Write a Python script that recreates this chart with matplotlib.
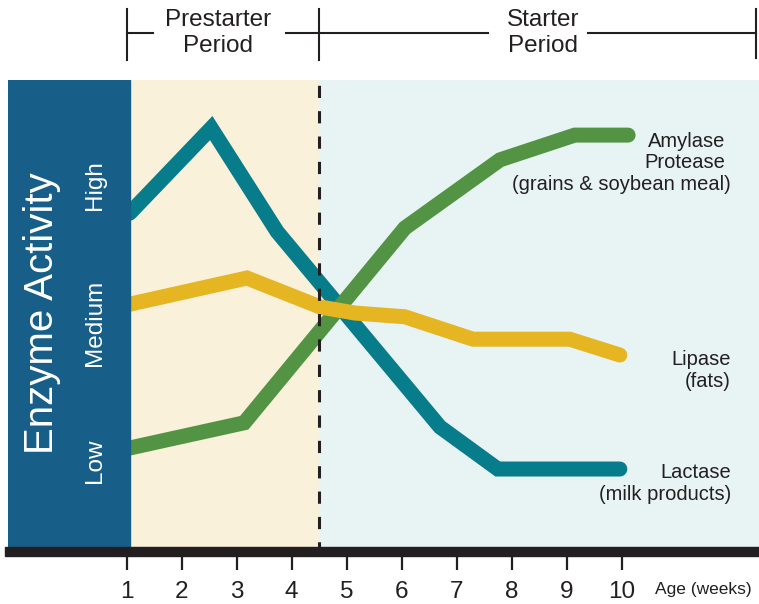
import matplotlib.pyplot as plt
from matplotlib.patches import Rectangle

plt.rcParams['font.family'] = ['Liberation Sans', 'DejaVu Sans']

# ── Data (age in weeks, relative enzyme activity 0-100) ──────────────────────
lactase_weeks = [1.06, 2.54, 3.74, 6.70, 7.75, 9.97]
lactase_level = [71.5, 89.7, 67.5, 25.7, 16.7, 16.7]

lipase_weeks = [1.06, 3.19, 4.52, 5.15, 6.06, 7.30, 9.06, 9.97]
lipase_level = [52.0, 57.6, 51.4, 50.1, 49.3, 44.5, 44.5, 41.1]

amylase_weeks = [1.06, 3.14, 6.06, 7.79, 9.15, 10.12]
amylase_level = [21.2, 26.6, 68.3, 82.9, 88.2, 88.2]

week_ticks = [1, 2, 3, 4, 5, 6, 7, 8, 9, 10]
activity_labels = ['Low', 'Medium', 'High']
activity_pos = [18.5, 48.0, 77.5]

# ── Colours ──────────────────────────────────────────────────────────────────
PANEL = '#175E88'
TEAL = '#077C8A'
YELLOW = '#E5B522'
GREEN = '#529443'
CREAM = '#FAF1DB'
ICE = '#E8F4F4'
INK = '#231F20'

XMIN, XMAX = -1.155, 12.5
PANEL_EDGE = 1.064
SPLIT = 4.5

fig = plt.figure(figsize=(7.59, 6.04), dpi=100)
ax = fig.add_axes([8 / 759, 57 / 604, 751 / 759, 467 / 604])
ax.set_xlim(XMIN, XMAX)
ax.set_ylim(0, 100)
for s in ax.spines.values():
    s.set_visible(False)
ax.set_yticks([])

# backgrounds
ax.add_patch(Rectangle((PANEL_EDGE, 0), SPLIT - PANEL_EDGE, 100, color=CREAM, zorder=0))
ax.add_patch(Rectangle((SPLIT, 0), XMAX - SPLIT, 100, color=ICE, zorder=0))

# enzyme curves
lw = 10.8
kw = dict(linewidth=lw, solid_capstyle='round', solid_joinstyle='miter')
ax.plot(lactase_weeks, lactase_level, color=TEAL, zorder=3, **kw)
ax.plot(amylase_weeks, amylase_level, color=GREEN, zorder=3.1, **kw)
ax.plot(lipase_weeks, lipase_level, color=YELLOW, zorder=3.2, **kw)

# left panel with activity scale
ax.add_patch(Rectangle((XMIN, 0), PANEL_EDGE - XMIN, 100, color=PANEL, zorder=4))
ax.text(-0.54, 50, 'Enzyme Activity', rotation=90, color='white', fontsize=29,
        ha='center', va='center', zorder=5)
for lab, pos in zip(activity_labels, activity_pos):
    ax.text(0.43, pos, lab, rotation=90, color='white', fontsize=17.5,
            ha='center', va='center', zorder=5)

# period divider
ax.plot([SPLIT, SPLIT], [-1.5, 100], color=INK, linewidth=2.2,
        linestyle=(0, (4, 4.3)), zorder=6, clip_on=False)

# bottom bar
ax.add_patch(Rectangle((XMIN - 0.06, -1.9), XMAX - XMIN + 0.06, 1.9, color=INK,
                       zorder=7, clip_on=False))

# x ticks
ax.set_xticks(week_ticks)
ax.set_xticklabels([str(w) for w in week_ticks], fontsize=17.5, color=INK)
ax.tick_params(axis='x', length=16.5, width=1.6, color=INK, pad=8)
ax.text(10.61, -9.2, 'Age (weeks)', fontsize=12.5, color=INK, ha='left', va='center',
        clip_on=False)

# curve labels
lab_kw = dict(fontsize=14.5, color=INK, ha='right', va='center')
ax.text(11.88, 86.8, 'Amylase', **lab_kw)
ax.text(11.88, 82.3, 'Protease', **lab_kw)
ax.text(11.99, 77.6, '(grains & soybean meal)', **lab_kw)
ax.text(11.99, 40.2, 'Lipase', **lab_kw)
ax.text(11.99, 35.5, '(fats)', **lab_kw)
ax.text(11.99, 16.0, 'Lactase', **lab_kw)
ax.text(11.99, 11.3, '(milk products)', **lab_kw)

# period brackets above plot
br = dict(color=INK, linewidth=1.5, clip_on=False)
ax.plot([1.0, 1.0], [104.3, 115.2], **br)
ax.plot([SPLIT, SPLIT], [104.3, 115.2], **br)
ax.plot([12.45, 12.45], [104.7, 115.2], **br)
ax.plot([1.0, 1.48], [110.1, 110.1], **br)
ax.plot([3.90, 7.57], [110.1, 110.1], **br)
ax.plot([9.39, 12.45], [110.1, 110.1], **br)
per_kw = dict(fontsize=17.5, color=INK, ha='center', va='center')
ax.text(2.67, 112.9, 'Prestarter', **per_kw)
ax.text(2.67, 107.3, 'Period', **per_kw)
ax.text(8.58, 112.9, 'Starter', **per_kw)
ax.text(8.58, 107.3, 'Period', **per_kw)

fig.savefig('out.png', dpi=100)
